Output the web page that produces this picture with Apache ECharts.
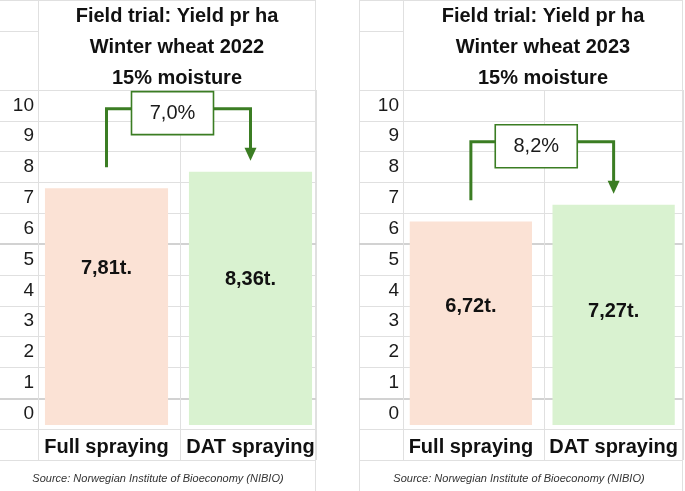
<!DOCTYPE html>
<html><head><meta charset="utf-8">
<script src="https://cdn.jsdelivr.net/npm/echarts@6/dist/echarts.min.js"></script>
<style>html,body{margin:0;padding:0;background:#fff}#c{width:685px;height:491px}</style>
</head><body><div id="c"></div><script>
// ---- data ----
const categories = ['Full spraying', 'DAT spraying'];
const yield2022 = [7.81, 8.36];
const yield2023 = [6.72, 7.27];
const yieldLabels2022 = ['7,81t.', '8,36t.'];
const yieldLabels2023 = ['6,72t.', '7,27t.'];
const increaseLabels = ['7,0%', '8,2%'];
const rowLabels = ['0', '1', '2', '3', '4', '5', '6', '7', '8', '9', '10'];
const titles2022 = ['Field trial: Yield pr ha', 'Winter wheat 2022', '15% moisture'];
const titles2023 = ['Field trial: Yield pr ha', 'Winter wheat 2023', '15% moisture'];
const sourceText = 'Source: Norwegian Institute of Bioeconomy (NIBIO)';

// ---- styles / layout ----
const FONT = '"Liberation Sans", Arial, sans-serif';
const GRIDC = '#e0e0e0';
const GREEN = '#3b7d23';
const barColors = ['#fbe2d5', '#d9f2d0'];
const panels = [
  { values: yield2022, labels: yieldLabels2022, inc: increaseLabels[0], titles: titles2022,
    colL: 0, colW: 38, cellL: 38, cellW: 278, split: 142, barL: 34.5, barW: 288,
    labelDist: [70, 98], titleX: 177, sourceX: 158, border: false },
  { values: yield2023, labels: yieldLabels2023, inc: increaseLabels[1], titles: titles2023,
    colL: 359, colW: 44, cellL: 403, cellW: 280, split: 141, barL: 399.5, barW: 286,
    labelDist: [75, 97], titleX: 543, sourceX: 519, border: true }
];
const ROW_TOP = 90, ROW_H = 370;

const grid = [], xAxis = [], yAxis = [], series = [], title = [], graphic = [];
const rowCats = [''].concat(rowLabels);

panels.forEach((p, i) => {
  const g0 = grid.length;
  // label column grid
  grid.push({ left: p.colL, top: ROW_TOP, width: p.colW, height: ROW_H });
  xAxis.push({ gridIndex: g0, type: 'value', show: false });
  yAxis.push({ gridIndex: g0, type: 'category', data: rowCats, boundaryGap: true, z: 0,
    axisLine: { show: false }, axisTick: { show: false }, axisLabel: { show: false },
    splitLine: { show: true, interval: 0, lineStyle: { color: GRIDC, width: 1 } } });
  // cell grid
  grid.push({ left: p.cellL, top: ROW_TOP, width: p.cellW, height: ROW_H });
  xAxis.push({ gridIndex: g0 + 1, type: 'value', min: 0, max: p.cellW, interval: p.split, z: 0,
    axisLine: { show: false }, axisTick: { show: false }, axisLabel: { show: false },
    splitLine: { show: true, lineStyle: { color: GRIDC, width: 1 } } });
  yAxis.push({ gridIndex: g0 + 1, type: 'category', data: rowCats, boundaryGap: true, z: 0,
    axisLine: { show: false }, axisTick: { show: false },
    axisLabel: { show: true, interval: 0, margin: 4, fontSize: 19, color: '#1a1a1a', fontFamily: FONT },
    splitLine: { show: true, interval: 0, lineStyle: { color: GRIDC, width: 1 } } });
  // thicker row lines
  grid.push({ left: p.colL, top: ROW_TOP + ROW_H / 12 * 5, width: p.cellL + p.cellW - p.colL, height: ROW_H / 12 * 5 });
  xAxis.push({ gridIndex: g0 + 2, type: 'value', show: false });
  yAxis.push({ gridIndex: g0 + 2, type: 'category', data: [''], boundaryGap: true, z: 0,
    axisLine: { show: false }, axisTick: { show: false }, axisLabel: { show: false },
    splitLine: { show: true, lineStyle: { color: '#d2d2d2', width: 2 } } });
  // bar grid
  grid.push({ left: p.barL, top: 122, width: p.barW, height: 303 });
  xAxis.push({ gridIndex: g0 + 3, type: 'category', data: categories,
    axisLine: { show: false }, axisTick: { show: false },
    axisLabel: { interval: 0, margin: 12, fontSize: 20, fontWeight: 'bold', color: '#111', fontFamily: FONT } });
  yAxis.push({ gridIndex: g0 + 3, type: 'value', min: 0, max: 10, show: false, splitLine: { show: false } });

  series.push({
    type: 'bar', xAxisIndex: g0 + 3, yAxisIndex: g0 + 3, barWidth: p.barW / 2 * 0.855,
    z: 10,
    data: p.values.map((v, k) => ({
      value: v, itemStyle: { color: barColors[k] },
      label: { show: true, position: 'insideTop', distance: p.labelDist[k],
        formatter: p.labels[k], fontSize: 20, fontWeight: 'bold', color: '#111', fontFamily: FONT }
    }))
  });

  series.push({
    type: 'custom', xAxisIndex: g0 + 3, yAxisIndex: g0 + 3, z: 12,
    data: [[0, p.values[0], p.values[1]]],
    encode: { x: 0, y: 1 },
    renderItem: function (params, api) {
      const v1 = api.value(1), v2 = api.value(2);
      const level = Math.max(v1, v2) + 2.08;
      const s = api.coord([0, v1 + 0.7]);
      const t1 = api.coord([0, level]);
      const t2 = api.coord([1, level]);
      const e = api.coord([1, v2 + 0.36]);
      const bw = 82, bh = 43;
      const cx = (t1[0] + t2[0]) / 2 - 6, cy = t1[1] + 4.5;
      const ls = { stroke: GREEN, lineWidth: 3, fill: null };
      return { type: 'group', children: [
        { type: 'polyline', shape: { points: [[s[0], s[1]], [t1[0], t1[1]], [cx - bw / 2, t1[1]]] }, style: ls },
        { type: 'polyline', shape: { points: [[cx + bw / 2, t2[1]], [t2[0], t2[1]], [e[0], e[1] - 12]] }, style: ls },
        { type: 'polygon', shape: { points: [[e[0] - 6, e[1] - 13], [e[0] + 6, e[1] - 13], [e[0], e[1]]] }, style: { fill: GREEN } },
        { type: 'rect', shape: { x: cx - bw / 2, y: cy - bh / 2, width: bw, height: bh },
          style: { fill: '#fff', stroke: GREEN, lineWidth: 1.6 } },
        { type: 'text', x: cx, y: cy, style: { text: p.inc, align: 'center', verticalAlign: 'middle',
          fontSize: 20, fontFamily: FONT, fill: '#1a1a1a' } }
      ] };
    }
  });

  title.push({ text: p.titles.join('\n'), left: p.titleX, top: 1, textAlign: 'center', padding: 0,
    textStyle: { fontSize: 20, fontWeight: 'bold', lineHeight: 31, color: '#111', fontFamily: FONT } });
  title.push({ text: sourceText, left: p.sourceX, top: 473, textAlign: 'center', padding: 0,
    textStyle: { fontSize: 11, fontStyle: 'italic', fontWeight: 'normal', color: '#333', fontFamily: FONT } });

  // spreadsheet frame decoration lines
  const right = p.cellL + p.cellW;
  const ln = (x1, y1, x2, y2) => graphic.push({ type: 'line', silent: true, z: -1,
    shape: { x1, y1, x2, y2 }, style: { stroke: GRIDC, lineWidth: 1 } });
  ln(p.colL, 0.5, right, 0.5);
  ln(p.colL, 31.5, p.cellL, 31.5);
  ln(p.cellL + 0.5, 0, p.cellL + 0.5, ROW_TOP);
  ln(right - 0.5, 0, right - 0.5, 491);
  if (p.border) ln(p.colL + 0.5, 0, p.colL + 0.5, 491);
});

const chart = echarts.init(document.getElementById('c'));
chart.setOption({ backgroundColor: '#fff', animation: false, title, grid, xAxis, yAxis, series, graphic });
</script></body></html>
